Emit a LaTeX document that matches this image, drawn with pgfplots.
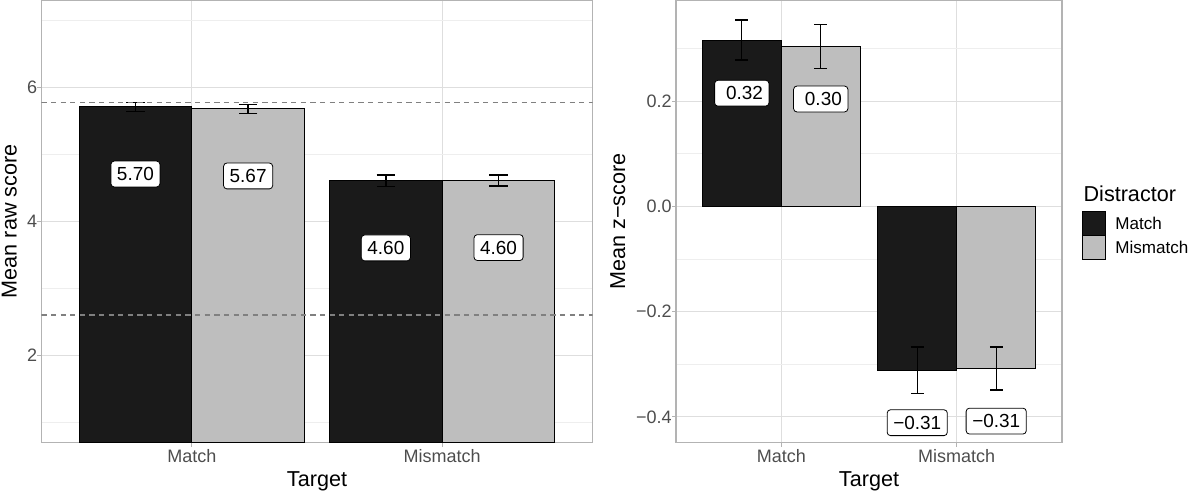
\documentclass[border=0pt]{standalone}
\usepackage{fontspec}
\setmainfont{Liberation Sans}
\usepackage{pgfplots}
\pgfplotsset{compat=1.18}

\definecolor{barblack}{HTML}{1A1A1A}
\definecolor{bargray}{HTML}{BEBEBE}
\definecolor{gridmaj}{HTML}{DEDEDE}
\definecolor{gridmin}{HTML}{EEEEEE}
\definecolor{framec}{HTML}{B3B3B3}
\definecolor{ticklab}{HTML}{4D4D4D}
\definecolor{dashc}{HTML}{808080}

\newcommand\tickfont{\fontsize{13.5}{16}\selectfont}
\newcommand\titlefont{\fontsize{16.2}{19}\selectfont}
\newcommand\labfont{\fontsize{14.2}{17}\selectfont}
\newcommand\legfont{\fontsize{12.8}{15}\selectfont}

\pgfplotsset{
  panel/.style={
    scale only axis,
    anchor=south west,
    height=332.0pt,
    xmin=0.4, xmax=2.6,
    xtick={1,2}, xticklabels={Match,Mismatch},
    tick pos=left,
    tick align=outside,
    major tick length=3pt,
    minor tick length=0pt,
    axis line style={framec, line width=0.9pt},
    major tick style={framec, line width=0.8pt},
    grid=both,
    major grid style={gridmaj, line width=0.8pt},
    minor grid style={gridmin, line width=0.5pt},
    ticklabel style={font=\tickfont, text=ticklab},
    yticklabel style={anchor=east, inner sep=0pt},
    xticklabel style={anchor=north, inner sep=0pt, yshift=-1.8pt},
    every axis x label/.style={at={(axis description cs:0.5,-0.0994)}, anchor=base, font=\titlefont},
    label style={font=\titlefont},
  },
  barlab/.style={
    draw=none, mark=none,
    nodes near coords,
    point meta=explicit symbolic,
    every node near coord/.style={anchor=center, fill=white, draw=black, line width=0.6pt,
      rounded corners=2.5pt, font=\labfont, text=black, text height=10.2pt, text depth=0pt,
      inner sep=4.6pt},
  },
}

\begin{document}
\begin{tikzpicture}
\path[use as bounding box] (0,0) rectangle (900pt,369pt);

% ---------------- left panel ----------------
\begin{axis}[panel,
  at={(31.125pt,36.975pt)},
  width=413.25pt,
  ymin=0.7, ymax=7.3,
  ytick={2,4,6},
  yticklabels={2,4,6},
  minor ytick={1,3,5,7},
  ylabel={Mean raw score},
  xlabel={Target},
  every axis y label/.style={at={(axis description cs:-0.045,0.5)}, rotate=90, anchor=base, font=\titlefont},
]
\addplot[ybar, bar width=0.45, bar shift=0pt, fill=barblack, draw=black, line width=0.8pt,
  error bars/.cd, y dir=both, y explicit,
  error bar style={line width=1pt, black, solid},
  error mark options={rotate=90, line width=1pt, black, mark size=6.86pt}]
  coordinates {(0.775,5.706) +- (0,0.064) (1.775,4.604) +- (0,0.089)};
\addplot[ybar, bar width=0.45, bar shift=0pt, fill=bargray, draw=black, line width=0.8pt,
  error bars/.cd, y dir=both, y explicit,
  error bar style={line width=1pt, black, solid},
  error mark options={rotate=90, line width=1pt, black, mark size=6.86pt}]
  coordinates {(1.225,5.677) +- (0,0.070) (2.225,4.609) +- (0,0.084)};
\addplot[dashc, line width=1pt, dash pattern=on 3.9pt off 3.3pt] coordinates {(0.4,5.776) (2.6,5.776)};
\addplot[dashc, line width=1pt, dash pattern=on 3.9pt off 3.3pt] coordinates {(0.4,2.602) (2.6,2.602)};
\addplot[barlab] coordinates {(0.775,4.706)[5.70] (1.225,4.677)[5.67] (1.775,3.604)[4.60] (2.225,3.609)[4.60]};
\end{axis}

% ---------------- right panel ----------------
\begin{axis}[panel,
  at={(507pt,36.975pt)},
  width=289.5pt,
  ymin=-0.449, ymax=0.392,
  ytick={-0.4,-0.2,0,0.2},
  yticklabels={−0.4,−0.2,0.0,0.2},
  minor ytick={-0.3,-0.1,0.1,0.3},
  ylabel={Mean z−score},
  xlabel={Target},
  every axis y label/.style={at={(axis description cs:-0.1316,0.5)}, rotate=90, anchor=base, font=\titlefont},
]
\addplot[ybar, bar width=0.45, bar shift=0pt, fill=barblack, draw=black, line width=0.8pt,
  error bars/.cd, y dir=both, y explicit,
  error bar style={line width=1pt, black, solid},
  error mark options={rotate=90, line width=1pt, black, mark size=4.76pt}]
  coordinates {(0.775,0.316) +- (0,0.038) (1.775,-0.311) +- (0,0.044)};
\addplot[ybar, bar width=0.45, bar shift=0pt, fill=bargray, draw=black, line width=0.8pt,
  error bars/.cd, y dir=both, y explicit,
  error bar style={line width=1pt, black, solid},
  error mark options={rotate=90, line width=1pt, black, mark size=4.76pt}]
  coordinates {(1.225,0.304) +- (0,0.042) (2.225,-0.308) +- (0,0.041)};
\addplot[barlab] coordinates {(0.775,0.215)[\hspace*{0.278em}0.32] (1.225,0.204)[\hspace*{0.278em}0.30] (1.775,-0.411)[−0.31] (2.225,-0.408)[−0.31]};
\end{axis}

% ---------------- legend ----------------
\node[anchor=base west, inner sep=0pt, font=\titlefont] at (812.5pt,217.7pt) {Distractor};
\draw[black, line width=0.8pt, fill=barblack] (812pt,192.2pt) rectangle (829.3pt,210.2pt);
\draw[black, line width=0.8pt, fill=bargray] (812pt,174.5pt) rectangle (829.3pt,192.2pt);
\node[anchor=base west, inner sep=0pt, font=\legfont] at (836.3pt,197pt) {Match};
\node[anchor=base west, inner sep=0pt, font=\legfont] at (836.3pt,178.5pt) {Mismatch};
\end{tikzpicture}
\end{document}
